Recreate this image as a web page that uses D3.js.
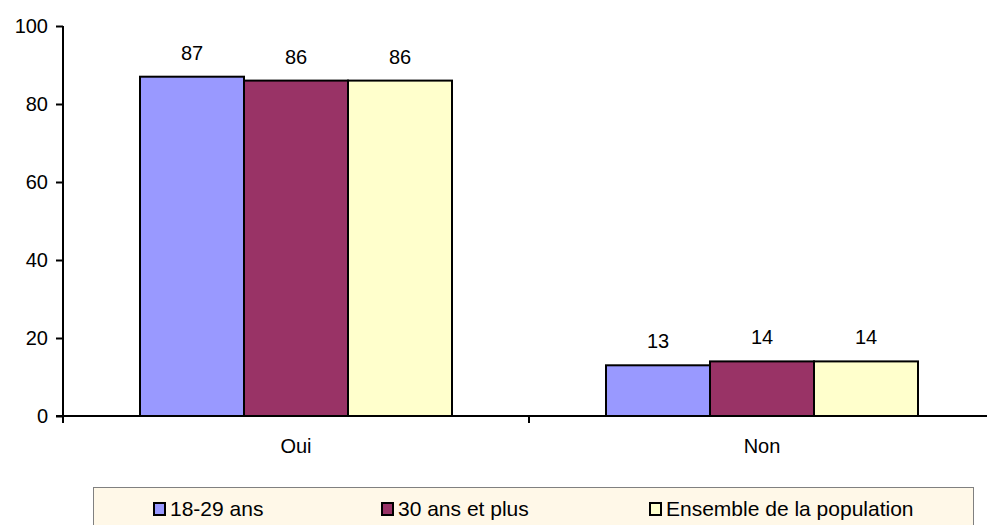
<!DOCTYPE html>
<html><head><meta charset="utf-8">
<script src="https://cdn.jsdelivr.net/npm/d3@7"></script>
<style>body{margin:0;background:#fff}svg{display:block;font-family:Arial,"Liberation Sans",sans-serif}</style>
</head><body><svg id="c" width="987" height="525"></svg>
<script>
const categories = ["Oui", "Non"];
const seriesNames = ["18-29 ans", "30 ans et plus", "Ensemble de la population"];
const values18_29 = [87, 13];
const values30plus = [86, 14];
const valuesEnsemble = [86, 14];
const yTicks = [0, 20, 40, 60, 80, 100];
const colors = ["#9999FF", "#993366", "#FFFFCC"];

const series = [values18_29, values30plus, valuesEnsemble];
const FONT = "Arial,'Liberation Sans',sans-serif";
const svg = d3.select("#c");
const mLeft = 63, mRight = 995, mTop = 26, mBottom = 416;
const y = d3.scaleLinear().domain([0, 100]).range([mBottom, mTop]);
const x0 = d3.scaleBand().domain(categories).range([mLeft, mRight]).paddingInner(0).paddingOuter(0);
const groupW = 312;
const x1 = d3.scaleBand().domain(seriesNames).range([0, groupW]);
const off = (x0.bandwidth() - groupW) / 2;

// bars
categories.forEach((c, ci) => {
  series.forEach((s, si) => {
    const bx = x0(c) + off + x1(seriesNames[si]);
    svg.append("rect").attr("x", bx).attr("y", y(s[ci]))
      .attr("width", x1.bandwidth()).attr("height", y(0) - y(s[ci]))
      .attr("fill", colors[si]).attr("stroke", "#000").attr("stroke-width", 2);
    svg.append("text").attr("x", bx + x1.bandwidth() / 2).attr("y", y(s[ci]) - 17)
      .attr("text-anchor", "middle").attr("font-size", 20).text(s[ci]);
  });
});

// y axis
const yAxis = d3.axisLeft(y).tickValues(yTicks).tickSize(7).tickPadding(8);
const ya = svg.append("g").attr("transform", `translate(${mLeft},0)`).call(yAxis);
ya.select(".domain").attr("stroke", "#000").attr("stroke-width", 2).attr("d", `M0,${mTop}V${mBottom}`);
ya.selectAll(".tick line").attr("stroke", "#000").attr("stroke-width", 2);
ya.selectAll(".tick text").attr("font-size", 20).attr("font-family", FONT).attr("fill", "#000");

// x axis
const xa = svg.append("g").attr("transform", `translate(0,${mBottom})`);
xa.append("line").attr("x1", mLeft - 7).attr("x2", mRight).attr("stroke", "#000").attr("stroke-width", 2);
[...categories.map(c => x0(c)), mRight].forEach(t => {
  xa.append("line").attr("x1", t).attr("x2", t).attr("y1", 0).attr("y2", 7).attr("stroke", "#000").attr("stroke-width", 2);
});
categories.forEach(c => {
  xa.append("text").attr("x", x0(c) + x0.bandwidth() / 2).attr("y", 37)
    .attr("text-anchor", "middle").attr("font-size", 20).text(c);
});

// legend
const lg = svg.append("g");
lg.append("rect").attr("x", 93.5).attr("y", 487.5).attr("width", 880).attr("height", 50)
  .attr("fill", "#FFF8E8").attr("stroke", "#808080").attr("stroke-width", 1);
const legTextX = [170, 398, 666];
seriesNames.forEach((n, i) => {
  lg.append("rect").attr("x", legTextX[i] - 16).attr("y", 503).attr("width", 11).attr("height", 12)
    .attr("fill", colors[i]).attr("stroke", "#000").attr("stroke-width", 2);
  lg.append("text").attr("x", legTextX[i]).attr("y", 516).attr("font-size", 21).text(n);
});
</script></body></html>
